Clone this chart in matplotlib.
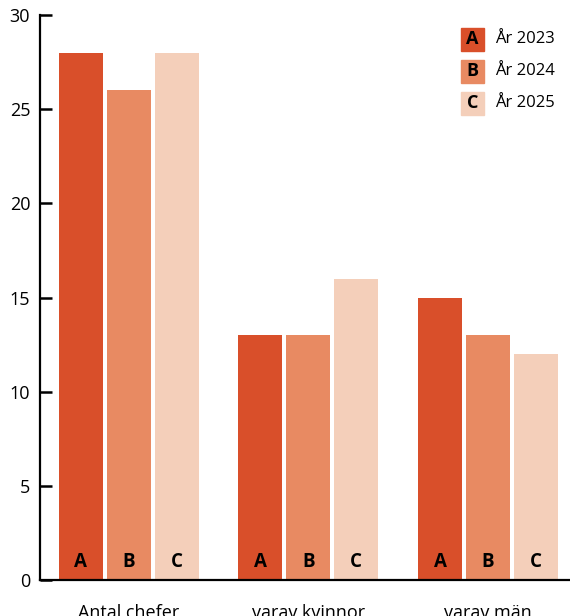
import matplotlib.pyplot as plt
from matplotlib.patches import Rectangle
import numpy as np

plt.rcParams['font.family'] = ['Open Sans', 'DejaVu Sans']

# data
categories = ['Antal chefer', 'varav kvinnor', 'varav män']
years = ['År 2023', 'År 2024', 'År 2025']
letters = ['A', 'B', 'C']
values_2023 = [28, 13, 15]
values_2024 = [26, 13, 13]
values_2025 = [28, 16, 12]
yticks = [0, 5, 10, 15, 20, 25, 30]

colors = ['#D94F2A', '#E88A62', '#F4CFBA']
series = [values_2023, values_2024, values_2025]

fig = plt.figure(figsize=(5.7, 6.16), dpi=100)
ax = fig.add_axes([0.070, 0.0584, 0.930, 0.9172])

x = np.arange(len(categories))
width = 0.244
step = 0.267
for i, vals in enumerate(series):
    pos = x + (i - 1) * step
    ax.bar(pos, vals, width=width, color=colors[i], zorder=2)
    for p in pos:
        ax.text(p, 0.95, letters[i], ha='center', va='center',
                fontsize=13.5, fontweight='bold', color='black', zorder=3)

ax.set_xlim(-0.494, 2.456)
ax.set_ylim(0, 30)
ax.set_yticks(yticks)
ax.set_xticks(x)
ax.set_xticklabels(categories, fontsize=13)
ax.tick_params(axis='x', length=0, pad=17)
ax.tick_params(axis='y', direction='in', length=8.5, width=1.8,
               labelsize=13, pad=7)

for side in ['top', 'right']:
    ax.spines[side].set_visible(False)
ax.spines['left'].set_linewidth(1.6)
ax.spines['bottom'].set_linewidth(1.6)

# legend with letter boxes
for i in range(3):
    y0 = 1 - (28 + 32 * i) / 616
    fig.patches.append(Rectangle((461 / 570, y0 - 23 / 616), 23 / 570, 23 / 616,
                                 transform=fig.transFigure, color=colors[i]))
    fig.text(472.5 / 570, y0 - 11.5 / 616, letters[i], ha='center', va='center',
             fontsize=13, fontweight='bold')
    fig.text(495 / 570, y0 - 11 / 616, years[i], ha='left', va='center',
             fontsize=12)

fig.savefig('out.png', dpi=100)
